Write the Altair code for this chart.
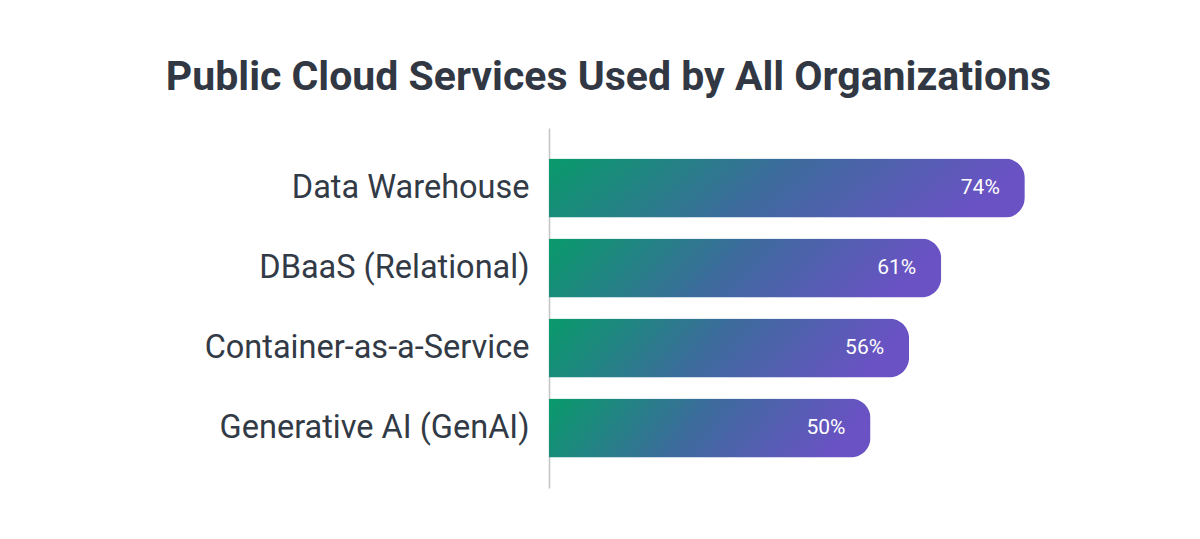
import altair as alt
import pandas as pd

categories = ["Data Warehouse", "DBaaS (Relational)", "Container-as-a-Service", "Generative AI (GenAI)"]
values = [74, 61, 56, 50]
labels = ["74%", "61%", "56%", "50%"]

df = pd.DataFrame({"service": categories, "value": values, "label": labels})

grad = alt.Gradient(
    gradient="linear",
    stops=[alt.GradientStop(color="#089b6a", offset=0),
           alt.GradientStop(color="#3c6c9c", offset=0.5),
           alt.GradientStop(color="#6a52c4", offset=1)],
    x1=0, y1=0, x2=1, y2=0.15,
)

yenc = alt.Y("service:N", sort=categories,
             scale=alt.Scale(paddingInner=0.26, paddingOuter=0.38),
             axis=alt.Axis(title=None, ticks=False, grid=False,
                           domainColor="#c4c4c8", domainWidth=1.5,
                           labelFont="Roboto", labelFontSize=32.5,
                           labelColor="#323a46", labelPadding=20,
                           labelLimit=500))
xenc = alt.X("value:Q", scale=alt.Scale(domain=[0, 100], nice=False), axis=None)

bars = alt.Chart(df).mark_bar(color=grad, cornerRadiusEnd=20).encode(x=xenc, y=yenc)

text = alt.Chart(df).mark_text(align="right", baseline="middle", dx=-25,
                               font="Roboto", fontSize=21, fontWeight="normal",
                               color="white").encode(x=xenc, y=yenc, text="label:N")

chart = (bars + text).properties(
    width=643, height=360,
    background="white",
    title=alt.TitleParams("Public Cloud Services Used by All Organizations",
                          font="Roboto", fontSize=41, fontWeight="bold",
                          color="#313844", anchor="middle", dx=-262,
                          offset=40, dy=43, baseline="alphabetic"),
    autosize=alt.AutoSizeParams(type="none"),
    padding={"left": 541, "top": 120, "right": 0, "bottom": 40},
).configure_view(strokeWidth=0, stroke=None)

chart.save("out.html", embed_options={"renderer": "svg", "actions": False})
